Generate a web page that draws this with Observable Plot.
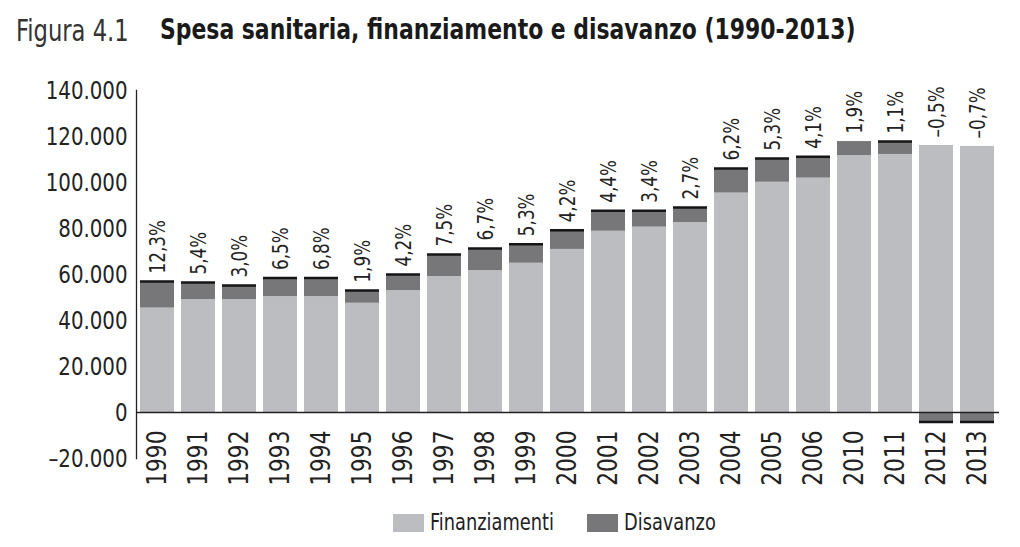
<!DOCTYPE html>
<html>
<head>
<meta charset="utf-8">
<script src="https://cdn.jsdelivr.net/npm/d3@7"></script>
<script src="https://cdn.jsdelivr.net/npm/@observablehq/plot@0.6"></script>
<style>
  html, body { margin: 0; padding: 0; background: #fff; }
  body { width: 1020px; height: 547px; overflow: hidden; font-family: "DejaVu Sans Condensed", "Liberation Sans Narrow", sans-serif; color: #222; }
  #title { position: relative; height: 62px; }
  #title span { position: absolute; top: 13px; transform-origin: 0 0; white-space: nowrap; }
  #title .num { left: 16px; font-size: 30px; font-weight: normal; color: #333; transform: scaleX(0.84); }
  #title .main { left: 160px; font-size: 28px; font-weight: bold; color: #1a1a1a; transform: scaleX(0.87); }
  #chart svg { display: block; }
  #legend { position: relative; height: 45px; font-size: 23px; color: #222; }
  #legend .sw { position: absolute; top: 12px; width: 31px; height: 18px; }
  #legend .lb { position: absolute; top: 7px; transform-origin: 0 0; transform: scaleX(0.86); white-space: nowrap; }
</style>
</head>
<body>
<div id="title"><span class="num">Figura 4.1</span><span class="main">Spesa sanitaria, finanziamento e disavanzo (1990-2013)</span></div>
<div id="chart"></div>
<div id="legend">
  <div class="sw" style="left:393px;background:#bcbdc1"></div><div class="lb" style="left:430px">Finanziamenti</div>
  <div class="sw" style="left:587px;background:#77777a"></div><div class="lb" style="left:624px">Disavanzo</div>
</div>
<script>
const anni = ["1990","1991","1992","1993","1994","1995","1996","1997","1998","1999","2000","2001","2002","2003","2004","2005","2006","2010","2011","2012","2013"];
const finanziamenti = [45400, 49100, 49100, 50400, 50400, 47500, 53000, 59100, 61700, 64900, 70900, 78800, 80600, 82600, 95400, 100100, 101900, 111700, 112200, 116100, 115700];
const disavanzo = [11600, 7400, 6100, 8100, 8100, 5500, 7000, 9600, 9600, 8300, 8300, 8900, 7100, 6500, 10700, 10300, 9300, 6100, 5600, -4100, -4100];
const percentuali = ["12,3%","5,4%","3,0%","6,5%","6,8%","1,9%","4,2%","7,5%","6,7%","5,3%","4,2%","4,4%","3,4%","2,7%","6,2%","5,3%","4,1%","1,9%","1,1%","–0,5%","–0,7%"];
const conBordo = [true,true,true,true,true,true,true,true,true,true,true,true,true,true,true,true,true,false,true,true,true];
const yTicks = [-20000, 0, 20000, 40000, 60000, 80000, 100000, 120000, 140000];

const it = d3.formatLocale({decimal: ",", thousands: ".", grouping: [3], currency: ["€", ""], minus: "–"});
const fmt = it.format(",d");

const lungo = [];
anni.forEach((a, i) => {
  lungo.push({anno: a, serie: "Finanziamenti", valore: finanziamenti[i]});
  lungo.push({anno: a, serie: "Disavanzo", valore: disavanzo[i]});
});
const righe = anni.map((a, i) => ({
  anno: a,
  fine: disavanzo[i] < 0 ? disavanzo[i] : finanziamenti[i] + disavanzo[i],
  cima: Math.max(finanziamenti[i], finanziamenti[i] + disavanzo[i]),
  pct: percentuali[i],
  bordo: conBordo[i]
}));

const FONT = '"DejaVu Sans Condensed", "Liberation Sans Narrow", sans-serif';

const plot = Plot.plot({
  width: 1020,
  height: 440,
  marginLeft: 136,
  marginRight: 21,
  marginTop: 28,
  marginBottom: 44,
  style: {fontFamily: FONT, color: "#222", background: "#fff"},
  x: {domain: anni, paddingInner: 0.17, paddingOuter: 0.1, axis: null},
  y: {domain: [-20000, 140000], axis: null},
  color: {domain: ["Finanziamenti", "Disavanzo"], range: ["#bcbdc1", "#77777a"]},
  marks: [
    Plot.barY(lungo, {x: "anno", y: "valore", fill: "serie", order: ["Finanziamenti", "Disavanzo"]}),
    Plot.tickY(righe.filter(d => d.bordo), {x: "anno", y: "fine", stroke: "#151515", strokeWidth: 2.5}),
    Plot.ruleY([0], {stroke: "#222", strokeWidth: 1.3}),
    Plot.frame({anchor: "left", stroke: "#222", strokeWidth: 1.3}),
    Plot.axisY({ticks: yTicks, tickSize: 0, tickPadding: 9, tickFormat: fmt, fontSize: 25, fill: "#222"}),
    Plot.text(righe, {x: "anno", y: "cima", text: "pct", rotate: -90, textAnchor: "start", lineAnchor: "middle", dy: -8, fontSize: 22, fill: "#222"}),
    Plot.text(righe, {x: "anno", y: 0, text: "anno", rotate: -90, textAnchor: "end", lineAnchor: "middle", dy: 18, fontSize: 26, fill: "#222"})
  ]
});
document.getElementById("chart").appendChild(plot);

// condense the text horizontally along its own direction (narrow typeface look)
const squeeze = (sel, k) => {
  plot.querySelectorAll(sel).forEach(t => {
    const tr = t.getAttribute("transform") || "";
    t.setAttribute("transform", tr + ` scale(${k},1)`);
  });
};
const textGroups = plot.querySelectorAll('g[aria-label="text"]');
if (textGroups[0]) squeeze.call(null, 'g[aria-label="text"]:nth-of-type(1) text', 1); // placeholder no-op
textGroups.forEach((g, gi) => {
  const k = gi === 0 ? 0.85 : 0.93;
  g.querySelectorAll("text").forEach(t => {
    const tr = t.getAttribute("transform") || "";
    t.setAttribute("transform", tr + ` scale(${k},1)`);
  });
});
plot.querySelectorAll('g[aria-label="y-axis tick label"] text').forEach(t => {
  const tr = t.getAttribute("transform") || "";
  t.setAttribute("transform", tr + " scale(0.88,1)");
});
</script>
</body>
</html>
